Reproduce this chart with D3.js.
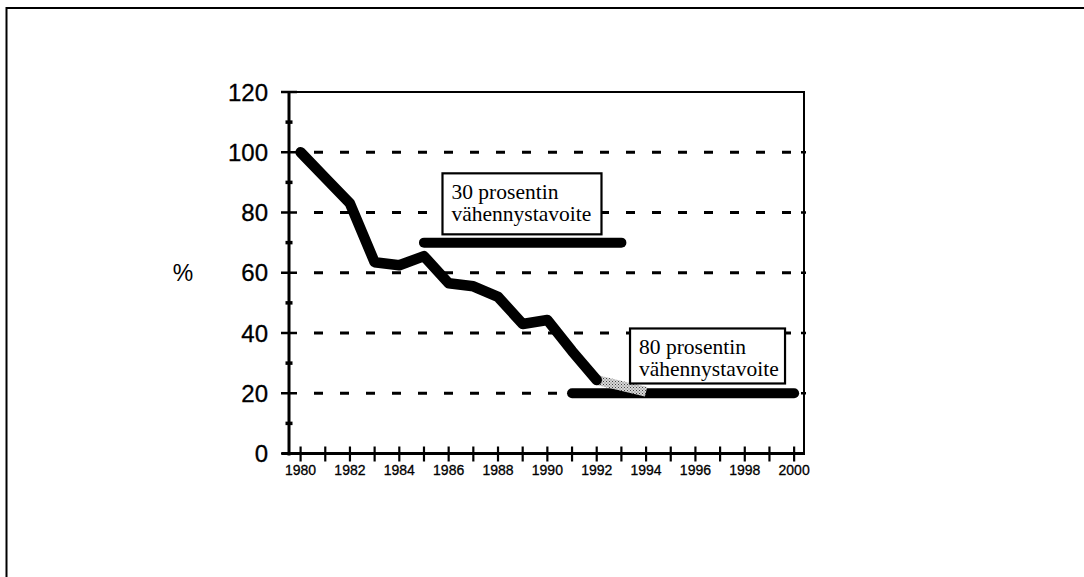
<!DOCTYPE html>
<html>
<head>
<meta charset="utf-8">
<script src="https://cdnjs.cloudflare.com/ajax/libs/d3/7.8.5/d3.min.js"></script>
<style>
  body { margin: 0; background: #fff; }
  svg { display: block; }
</style>
</head>
<body>
<svg id="chart" width="1084" height="577"></svg>
<script>
// data
const years = [1980, 1981, 1982, 1983, 1984, 1985, 1986, 1987, 1988, 1989, 1990, 1991, 1992];
const emissions = [100, 91.5, 83, 63.5, 62.5, 65.5, 56.5, 55.5, 52, 43, 44.3, 34, 24.4];
const projYears = [1992, 1994];
const projValues = [24.4, 20.5];
const target30Years = [1985, 1993];
const target30Value = 70;
const target80Years = [1991, 2000];
const target80Value = 20;
const yTicks = [0, 20, 40, 60, 80, 100, 120];
const yMinorTicks = [10, 30, 50, 70, 90, 110];
const xTickYears = d3.range(1980, 2001);
const xLabelYears = [1980, 1982, 1984, 1986, 1988, 1990, 1992, 1994, 1996, 1998, 2000];
const label30 = ["30 prosentin", "vähennystavoite"];
const label80 = ["80 prosentin", "vähennystavoite"];

var svg = d3.select("#chart");

// outer frame (only top and left edges visible)
svg.append("path")
  .attr("d", "M6.5,577 L6.5,8 L1084,8")
  .attr("fill", "none")
  .attr("stroke", "#000")
  .attr("stroke-width", 2);

var x = d3.scaleLinear().domain([1979.53, 2000.4]).range([289, 804]);
var y = d3.scaleLinear().domain([0, 120]).range([453.5, 92]);

// stipple pattern for the projected part
var defs = svg.append("defs");
var pat = defs.append("pattern")
  .attr("id", "stipple")
  .attr("width", 3).attr("height", 3)
  .attr("patternUnits", "userSpaceOnUse");
pat.append("rect").attr("width", 3).attr("height", 3).attr("fill", "#d8d8d8");
pat.append("rect").attr("x", 0).attr("y", 0).attr("width", 1).attr("height", 1).attr("fill", "#444");
pat.append("rect").attr("x", 1.5).attr("y", 1.5).attr("width", 1).attr("height", 1).attr("fill", "#666");

// dashed gridlines
svg.append("g")
  .selectAll("line")
  .data(yTicks.filter(d => d > 0 && d < 120))
  .enter().append("line")
    .attr("x1", x(1979.53) + 25)
    .attr("x2", x(2000.4))
    .attr("y1", d => y(d))
    .attr("y2", d => y(d))
    .attr("stroke", "#000")
    .attr("stroke-width", 2.8)
    .attr("stroke-dasharray", "9,17");

// frame top and right
svg.append("path")
  .attr("d", "M" + x(1979.53) + "," + y(120) + " L" + x(2000.4) + "," + y(120) + " L" + x(2000.4) + "," + y(0))
  .attr("fill", "none")
  .attr("stroke", "#000")
  .attr("stroke-width", 2);

// right side small ticks
svg.append("g")
  .selectAll("line")
  .data(yTicks.filter(d => d > 0 && d < 120))
  .enter().append("line")
    .attr("x1", x(2000.4) - 3).attr("x2", x(2000.4) + 2)
    .attr("y1", d => y(d)).attr("y2", d => y(d))
    .attr("stroke", "#000").attr("stroke-width", 2.5);

// Y axis
var yAxis = svg.append("g").attr("transform", "translate(" + x(1979.53) + ",0)");
yAxis.append("line")
  .attr("y1", y(120)).attr("y2", y(0) + 2)
  .attr("stroke", "#000").attr("stroke-width", 3);
yAxis.selectAll(".major")
  .data(yTicks)
  .enter().append("line")
    .attr("class", "major")
    .attr("x1", -8).attr("x2", 8)
    .attr("y1", d => y(d)).attr("y2", d => y(d))
    .attr("stroke", "#000").attr("stroke-width", 2.5);
yAxis.selectAll(".minor")
  .data(yMinorTicks)
  .enter().append("line")
    .attr("class", "minor")
    .attr("x1", -3.5).attr("x2", 3.5)
    .attr("y1", d => y(d)).attr("y2", d => y(d))
    .attr("stroke", "#000").attr("stroke-width", 3.5);
yAxis.selectAll("text")
  .data(yTicks)
  .enter().append("text")
    .attr("x", -21)
    .attr("y", d => y(d))
    .attr("dy", "0.36em")
    .attr("text-anchor", "end")
    .style("font-family", "'Liberation Sans', Arial, sans-serif")
    .style("font-size", "24px")
    .style("stroke", "#000")
    .style("stroke-width", 0.3)
    .text(d => d);

// % label
svg.append("text")
  .attr("x", 183).attr("y", 273)
  .attr("dy", "0.36em")
  .attr("text-anchor", "middle")
  .style("font-family", "'Liberation Sans', Arial, sans-serif")
  .style("font-size", "23px")
  .text("%");

// X axis
var xAxis = svg.append("g").attr("transform", "translate(0," + y(0) + ")");
xAxis.append("line")
  .attr("x1", x(1979.53) - 7).attr("x2", x(2000.4) + 1)
  .attr("stroke", "#000").attr("stroke-width", 3);
xAxis.selectAll("line.tick")
  .data(xTickYears)
  .enter().append("line")
    .attr("class", "tick")
    .attr("x1", d => x(d)).attr("x2", d => x(d))
    .attr("y1", -7).attr("y2", 8)
    .attr("stroke", "#000").attr("stroke-width", 2.2);
xAxis.selectAll("text")
  .data(xLabelYears)
  .enter().append("text")
    .attr("x", d => x(d))
    .attr("y", 21)
    .attr("text-anchor", "middle")
    .style("font-family", "'Liberation Sans', Arial, sans-serif")
    .style("font-size", "14px")
    .style("stroke", "#000")
    .style("stroke-width", 0.3)
    .text(d => d);

// target lines
var targets = [
  { yrs: target30Years, v: target30Value },
  { yrs: target80Years, v: target80Value }
];
svg.append("g")
  .selectAll("line")
  .data(targets)
  .enter().append("line")
    .attr("x1", d => x(d.yrs[0])).attr("x2", d => x(d.yrs[1]))
    .attr("y1", d => y(d.v)).attr("y2", d => y(d.v))
    .attr("stroke", "#000")
    .attr("stroke-width", 10)
    .attr("stroke-linecap", "round");

// emission line
var line = d3.line()
  .x(d => x(d[0]))
  .y(d => y(d[1]));

svg.append("path")
  .datum(d3.zip(projYears, projValues))
  .attr("d", line)
  .attr("fill", "none")
  .attr("stroke", "url(#stipple)")
  .attr("stroke-width", 10);

svg.append("path")
  .datum(d3.zip(years, emissions))
  .attr("d", line)
  .attr("fill", "none")
  .attr("stroke", "#000")
  .attr("stroke-width", 10.5)
  .attr("stroke-linejoin", "round")
  .attr("stroke-linecap", "round");

// label boxes
function labelBox(x0, y0, w, h, lines) {
  var g = svg.append("g");
  g.append("rect")
    .attr("x", x0).attr("y", y0)
    .attr("width", w).attr("height", h)
    .attr("fill", "#fff")
    .attr("stroke", "#000")
    .attr("stroke-width", 2.2);
  g.selectAll("text")
    .data(lines)
    .enter().append("text")
      .attr("x", x0 + 9)
      .attr("y", (d, i) => y0 + 26 + i * 22)
      .style("font-family", "'Liberation Serif', 'Times New Roman', Times, serif")
      .style("font-size", "21.5px")
      .text(d => d);
}
labelBox(x(1985.75), y(93), 159, 61, label30);
labelBox(x(1993.35), y(41.5), 155, 55, label80);
</script>
</body>
</html>
